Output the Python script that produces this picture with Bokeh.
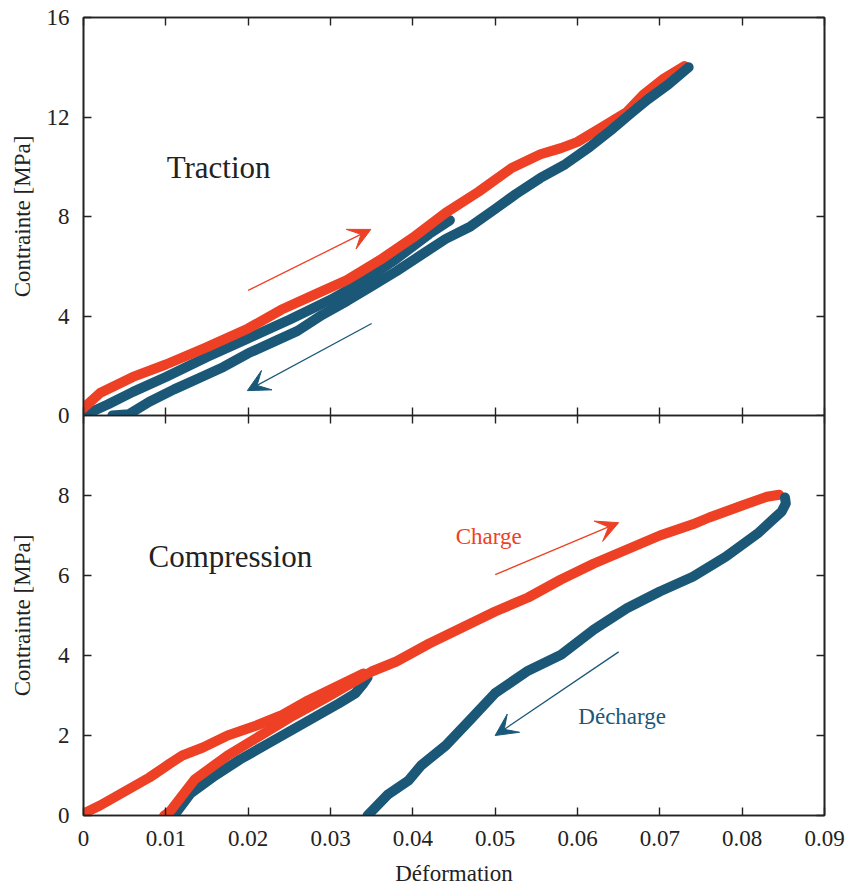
from bokeh.plotting import figure
from bokeh.layouts import column
from bokeh.models import (Range1d, LinearAxis, FixedTicker, CustomJSTickFormatter,
                          Arrow, VeeHead, Label)
from bokeh.embed import file_html
from bokeh.resources import INLINE

RED = "#EE4024"
BLUE = "#1B5878"
INK = "#222222"
FONT = "Liberation Serif"

# ---------------- Traction (top panel) ----------------
trac_load_x = [0, 0.002, 0.006, 0.010, 0.015, 0.020, 0.024, 0.028, 0.032, 0.036, 0.040,
               0.044, 0.048, 0.052, 0.0555, 0.058, 0.060, 0.063, 0.066, 0.068, 0.0705, 0.073]
trac_load_y = [0.3, 0.9, 1.55, 2.05, 2.75, 3.5, 4.25, 4.85, 5.45, 6.25, 7.15,
               8.15, 9.0, 9.95, 10.5, 10.75, 11.0, 11.6, 12.2, 12.9, 13.55, 14.05]

trac_unload1_x = [0, 0.003, 0.006, 0.010, 0.015, 0.020, 0.025, 0.030, 0.034, 0.038, 0.042, 0.0445]
trac_unload1_y = [0, 0.45, 0.95, 1.55, 2.35, 3.1, 3.85, 4.65, 5.4, 6.3, 7.3, 7.85]

trac_unload2_x = [0.0735, 0.071, 0.0685, 0.0665, 0.064, 0.0615, 0.0585, 0.0555, 0.0525, 0.050,
                  0.047, 0.044, 0.041, 0.038, 0.035, 0.032, 0.029, 0.026, 0.023, 0.020,
                  0.017, 0.014, 0.011, 0.008, 0.0055, 0.0035]
trac_unload2_y = [14.0, 13.3, 12.7, 12.15, 11.45, 10.8, 10.1, 9.55, 8.9, 8.3,
                  7.6, 7.1, 6.45, 5.8, 5.2, 4.6, 4.05, 3.4, 2.95, 2.5,
                  1.95, 1.5, 1.05, 0.55, 0.05, 0.0]

# ---------------- Compression (bottom panel) ----------------
comp_load1_x = [0, 0.002, 0.005, 0.008, 0.0105, 0.012, 0.0145, 0.0175, 0.021, 0.024,
                0.027, 0.030, 0.033, 0.034]
comp_load1_y = [0.05, 0.25, 0.6, 0.95, 1.3, 1.5, 1.7, 2.0, 2.25, 2.5,
                2.85, 3.15, 3.45, 3.55]

comp_unload1_x = [0.0345, 0.034, 0.033, 0.031, 0.028, 0.025, 0.022, 0.019, 0.016, 0.013, 0.011]
comp_unload1_y = [3.45, 3.3, 3.05, 2.8, 2.45, 2.1, 1.75, 1.4, 1.0, 0.55, 0.0]

comp_load2_x = [0.0098, 0.0105, 0.0135, 0.0175, 0.0215, 0.0255, 0.0295, 0.0325, 0.035, 0.038,
                0.042, 0.046, 0.050, 0.054, 0.058, 0.062, 0.066, 0.070, 0.074, 0.076,
                0.080, 0.083, 0.0845]
comp_load2_y = [0.0, 0.1, 0.9, 1.5, 2.0, 2.5, 2.95, 3.3, 3.6, 3.85,
                4.3, 4.7, 5.1, 5.45, 5.9, 6.3, 6.65, 7.0, 7.28, 7.45,
                7.75, 7.97, 8.02]

comp_unload2_x = [0.0852, 0.0853, 0.0848, 0.084, 0.082, 0.078, 0.074, 0.070, 0.066, 0.062,
                  0.058, 0.054, 0.050, 0.047, 0.044, 0.041, 0.0395, 0.037, 0.0345]
comp_unload2_y = [7.95, 7.8, 7.6, 7.45, 7.07, 6.47, 5.97, 5.6, 5.18, 4.65,
                  4.02, 3.62, 3.06, 2.4, 1.75, 1.25, 0.88, 0.53, 0.0]

x_ticks = [0, 0.01, 0.02, 0.03, 0.04, 0.05, 0.06, 0.07, 0.08, 0.09]
top_y_ticks = [0, 4, 8, 12, 16]
bot_y_ticks = [0, 2, 4, 6, 8]

# annotation arrows: (x_start, y_start, x_end, y_end)
top_red_arrow = [0.020, 5.03, 0.0349, 7.48]
top_blue_arrow = [0.035, 3.7, 0.0199, 1.0]
bot_red_arrow = [0.050, 6.02, 0.065, 7.32]
bot_blue_arrow = [0.065, 4.09, 0.050, 2.0]

LW = 10
OVERLAP = 12


def add_axes(p, yticks, left_label, left_standoff, bottom_labels):
    fmt = CustomJSTickFormatter(code="return Number(tick.toFixed(2)).toString();")
    for loc in ["left", "right", "above", "below"]:
        if loc in ("left", "right"):
            ax = LinearAxis(ticker=FixedTicker(ticks=yticks))
        else:
            ax = LinearAxis(ticker=FixedTicker(ticks=x_ticks), formatter=fmt)
        ax.axis_line_color = INK
        ax.axis_line_width = 1.6
        ax.major_tick_line_color = INK
        ax.major_tick_line_width = 1.4
        ax.major_tick_in = 8
        ax.major_tick_out = 0
        ax.minor_tick_line_color = None
        ax.major_label_text_font = FONT
        ax.major_label_text_color = INK
        ax.axis_label_text_font = FONT
        ax.axis_label_text_font_style = "normal"
        ax.axis_label_text_color = INK
        ax.axis_label_text_font_size = "23px"
        show = (loc == "left") or (loc == "below" and bottom_labels)
        if show:
            ax.major_label_text_font_size = "23px"
            ax.major_label_standoff = 14 if loc == "left" else 15
            if loc == "left":
                ax.axis_label = left_label
                ax.axis_label_standoff = left_standoff
            else:
                ax.axis_label = "Déformation"
                ax.axis_label_standoff = 12
        else:
            ax.major_label_text_font_size = "0px"
            ax.major_label_text_color = None
            ax.major_label_standoff = 0
        p.add_layout(ax, loc)


def make_fig(frame_h, yr, border_top, border_bottom):
    p = figure(frame_width=741, frame_height=frame_h,
               x_range=Range1d(0, 0.09), y_range=Range1d(*yr),
               output_backend="svg", toolbar_location=None,
               x_axis_location=None, y_axis_location=None,
               min_border_left=83, min_border_right=22,
               min_border_top=border_top, min_border_bottom=border_bottom,
               background_fill_color="white", border_fill_color="white")
    p.outline_line_color = INK
    p.outline_line_width = 1.6
    p.grid.visible = False
    return p


def arrow(p, coords, color):
    p.add_layout(Arrow(end=VeeHead(size=22, line_color=color, fill_color=color, line_width=1),
                       x_start=coords[0], y_start=coords[1], x_end=coords[2], y_end=coords[3],
                       line_color=color, line_width=1.3))


# top panel
p1 = make_fig(398, (0, 16), 17, OVERLAP)
add_axes(p1, top_y_ticks, "Contrainte [MPa]", 9, False)
p1.line(trac_unload1_x, trac_unload1_y, line_color=BLUE, line_width=LW, line_join="round", line_cap="round")
p1.line(trac_load_x, trac_load_y, line_color=RED, line_width=LW, line_join="round", line_cap="round")
p1.line(trac_unload2_x, trac_unload2_y, line_color=BLUE, line_width=LW, line_join="round", line_cap="round")
arrow(p1, top_red_arrow, RED)
arrow(p1, top_blue_arrow, BLUE)
p1.add_layout(Label(x=0.0101, y=9.97, text="Traction", text_font=FONT, text_font_size="31px",
                    text_color=INK, text_baseline="middle", text_align="left"))

# bottom panel (slides up under the top panel's lower border so the shared "0" is not clipped)
p2 = make_fig(400, (0, 10), 0, 0)
p2.border_fill_alpha = 0
p2.margin = (-OVERLAP, 0, 0, 0)
add_axes(p2, bot_y_ticks, "Contrainte [MPa]", 20, True)
p2.line(comp_load1_x, comp_load1_y, line_color=RED, line_width=LW, line_join="round", line_cap="round")
p2.line(comp_unload1_x, comp_unload1_y, line_color=BLUE, line_width=LW, line_join="round", line_cap="round")
p2.line(comp_load2_x, comp_load2_y, line_color=RED, line_width=LW, line_join="round", line_cap="round")
p2.line(comp_unload2_x, comp_unload2_y, line_color=BLUE, line_width=LW, line_join="round", line_cap="round")
arrow(p2, bot_red_arrow, RED)
arrow(p2, bot_blue_arrow, BLUE)
p2.add_layout(Label(x=0.0079, y=6.47, text="Compression", text_font=FONT, text_font_size="31px",
                    text_color=INK, text_baseline="middle", text_align="left"))
p2.add_layout(Label(x=0.0452, y=6.97, text="Charge", text_font=FONT, text_font_size="23px",
                    text_color=RED, text_baseline="middle", text_align="left"))
p2.add_layout(Label(x=0.0601, y=2.48, text="Décharge", text_font=FONT, text_font_size="23px",
                    text_color=BLUE, text_baseline="middle", text_align="left"))

layout = column(p1, p2, spacing=0)
open("out.html", "w").write(file_html(layout, INLINE))
